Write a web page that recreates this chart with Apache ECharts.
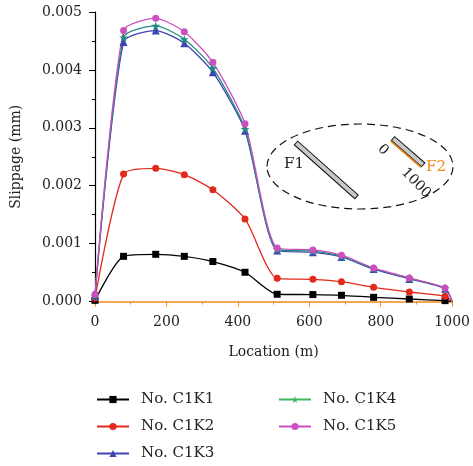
<!DOCTYPE html>
<html>
<head>
<meta charset="utf-8">
<script src="https://cdn.jsdelivr.net/npm/echarts@6/dist/echarts.min.js"></script>
<style>
  html, body { margin: 0; padding: 0; background: #fff; }
  #main { width: 473px; height: 466px; }
</style>
</head>
<body>
<div id="main"></div>
<script>
// 位置 (m)
var locations = [0, 80, 170, 250, 330, 420, 510, 610, 690, 780, 880, 980, 1000];
// 各工况滑移量 (mm)
var c1k1 = [0.00002, 0.00078, 0.000815, 0.00078, 0.00069, 0.000505, 0.000125, 0.00012, 0.000107, 0.000072, 0.000043, 0.000015, 0];
var c1k2 = [0.000055, 0.0022, 0.0023, 0.00219, 0.00193, 0.001425, 0.0004, 0.000383, 0.000342, 0.000245, 0.000164, 0.00009, 0];
var c1k3 = [0.0001, 0.00448, 0.00468, 0.00446, 0.00396, 0.00295, 0.00088, 0.00085, 0.00077, 0.00056, 0.00039, 0.00022, 0];
var c1k4 = [0.0001, 0.00456, 0.00476, 0.00453, 0.00403, 0.00298, 0.0009, 0.00087, 0.00078, 0.00057, 0.0004, 0.00023, 0];
var c1k5 = [0.000124, 0.00468, 0.00489, 0.00466, 0.00413, 0.00307, 0.000924, 0.00089, 0.0008, 0.000579, 0.000406, 0.000233, 0];
var yTicks = [0, 0.001, 0.002, 0.003, 0.004, 0.005];
var xTicks = [0, 200, 400, 600, 800, 1000];

var font = 'DejaVu Serif';
var chart = echarts.init(document.getElementById('main'));

function pts(arr) {
    return locations.map(function (x, i) {
        var p = { value: [x, arr[i]] };
        if (x === 1000) p.symbol = 'none';
        return p;
    });
}

function line(name, arr, color, symbol, size) {
    return {
        name: name,
        type: 'line',
        data: pts(arr),
        smooth: 0.22,
        symbol: symbol,
        symbolSize: size,
        showAllSymbol: true,
        lineStyle: { color: color, width: 1.3 },
        itemStyle: { color: color },
        emphasis: { disabled: true },
        z: 3
    };
}

var legendText = { fontFamily: font, fontSize: 15, color: '#222', padding: [0, 0, 0, 7] };

var option = {
    animation: false,
    backgroundColor: '#fff',
    grid: { left: 95, right: 18, top: 12, bottom: 164.5 },
    xAxis: {
        type: 'value',
        min: 0, max: 1000, interval: 200,
        name: 'Location (m)',
        nameLocation: 'middle',
        nameGap: 44,
        nameTextStyle: { fontFamily: font, fontSize: 14, color: '#222' },
        axisLine: { lineStyle: { color: '#f08a1c', width: 1.5 } },
        axisTick: { inside: false, length: 5, lineStyle: { color: '#f08a1c' } },
        minorTick: { show: true, splitNumber: 2, length: 3, lineStyle: { color: '#f08a1c' } },
        axisLabel: {
            fontFamily: font, fontSize: 14, color: '#222', margin: 14,
            formatter: function (v) { return xTicks.indexOf(v) >= 0 ? String(v) : ''; }
        },
        splitLine: { show: false }
    },
    yAxis: {
        type: 'value',
        min: 0, max: 0.005, interval: 0.001,
        name: 'Slippage (mm)',
        nameLocation: 'middle',
        nameGap: 72,
        nameTextStyle: { fontFamily: font, fontSize: 14, color: '#222' },
        axisLine: { show: true, lineStyle: { color: '#000', width: 1.2 } },
        axisTick: { show: true, inside: false, length: 6, lineStyle: { color: '#000' } },
        minorTick: { show: true, splitNumber: 2, length: 3, lineStyle: { color: '#000' } },
        axisLabel: {
            fontFamily: font, fontSize: 14, color: '#222', margin: 13,
            formatter: function (v) { return v.toFixed(3); }
        },
        splitLine: { show: false }
    },
    legend: [{
        orient: 'vertical',
        left: 96, top: 392, height: 90, padding: 0,
        itemWidth: 32, itemHeight: 9, itemGap: 12,
        textStyle: legendText,
        data: ['No. C1K1', 'No. C1K2', 'No. C1K3']
    }, {
        orient: 'vertical',
        left: 278, top: 392, height: 90, padding: 0,
        itemWidth: 32, itemHeight: 9, itemGap: 12,
        textStyle: legendText,
        data: [
            { name: 'No. C1K4', itemStyle: { color: '#45b65e' }, lineStyle: { color: '#45b65e' } },
            'No. C1K5'
        ]
    }],
    graphic: [
        {
            type: 'ellipse',
            shape: { cx: 360, cy: 166.5, rx: 93, ry: 42.5 },
            style: { fill: 'none', stroke: '#111', lineWidth: 1.2, lineDash: [8, 5] },
            z: 10
        },
        {
            type: 'rect',
            x: 296, y: 143, rotation: -0.727,
            originX: 0, originY: 0,
            shape: { x: 0, y: -2.5, width: 81, height: 5 },
            style: { fill: '#c8c8c8', stroke: '#111', lineWidth: 1 },
            z: 10
        },
        {
            type: 'rect',
            x: 393, y: 138.5, rotation: -0.715,
            originX: 0, originY: 0,
            shape: { x: 0, y: -2.5, width: 40, height: 5 },
            style: { fill: '#c8c8c8', stroke: '#111', lineWidth: 1 },
            z: 10
        },
        {
            type: 'line',
            x: 393, y: 138.5, rotation: -0.715,
            originX: 0, originY: 0,
            shape: { x1: 0, y1: 3.5, x2: 40, y2: 3.5 },
            style: { stroke: '#f08a1c', lineWidth: 1.5 },
            z: 11
        },
        {
            type: 'text', x: 294, y: 164,
            style: { text: 'F1', font: '15px "DejaVu Serif"', fill: '#222', align: 'center', verticalAlign: 'middle' },
            z: 10
        },
        {
            type: 'text', x: 436, y: 167,
            style: { text: 'F2', font: '15px "DejaVu Serif"', fill: '#f08a1c', align: 'center', verticalAlign: 'middle' },
            z: 10
        },
        {
            type: 'text', x: 383, y: 150, rotation: -0.8, originX: 0, originY: 0,
            style: { text: '0', font: '14px "DejaVu Serif"', fill: '#222', align: 'center', verticalAlign: 'middle' },
            z: 10
        },
        {
            type: 'text', x: 416, y: 183, rotation: -0.8, originX: 0, originY: 0,
            style: { text: '1000', font: '14px "DejaVu Serif"', fill: '#222', align: 'center', verticalAlign: 'middle' },
            z: 10
        }
    ],
    series: [
        line('No. C1K1', c1k1, '#000000', 'rect', 7),
        line('No. C1K2', c1k2, '#e3281c', 'circle', 7),
        line('No. C1K3', c1k3, '#3d45b0', 'triangle', 8),
        line('No. C1K4', c1k4, '#1f8c80', 'path://M50,0 L61,35 L98,35 L68,57 L79,91 L50,70 L21,91 L32,57 L2,35 L39,35 Z', 9),
        line('No. C1K5', c1k5, '#cc4fbe', 'circle', 7)
    ]
};

chart.setOption(option);
</script>
</body>
</html>
